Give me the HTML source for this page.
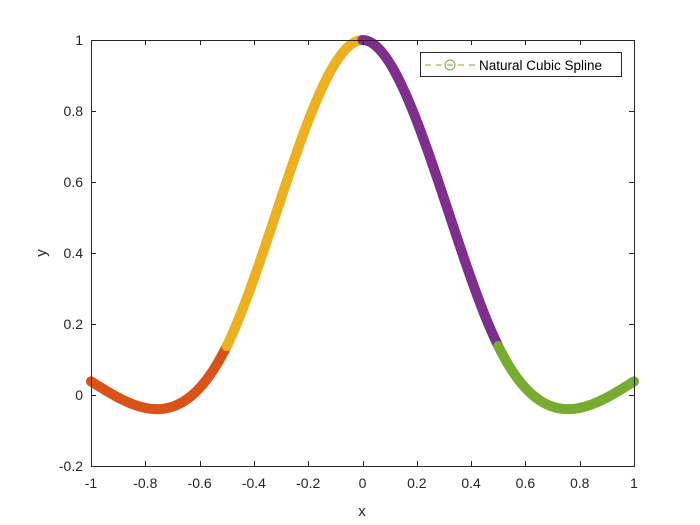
<!DOCTYPE html>
<html><head><meta charset="utf-8">
<style>
html,body{margin:0;padding:0;background:#fff;}
svg{display:block;font-family:"Liberation Sans",Arial,sans-serif;}
</style></head>
<body>
<svg id="chart" width="700" height="525" viewBox="0 0 700 525">
<rect width="700" height="525" fill="#fff"/>
<g id="segs"></g>
<g id="axes"></g>
<text x="362" y="516" font-size="15" text-anchor="middle" fill="#262626">x</text>
<text x="46" y="253" font-size="15" text-anchor="middle" fill="#262626" transform="rotate(-90 46 253)">y</text>
<g>
<rect x="420.5" y="52.5" width="201" height="24" fill="#fff" stroke="#262626" stroke-width="1"/>
<line x1="425" y1="65" x2="475" y2="65" stroke="#77AC30" stroke-width="1" stroke-dasharray="6,5"/>
<circle cx="450" cy="65" r="5" fill="none" stroke="#77AC30" stroke-width="1"/>
<text x="479" y="70" font-size="13.5" fill="#000">Natural Cubic Spline</text>
</g>
</svg>
<script>
const nodeX = [-1, -0.5, 0, 0.5, 1];
const nodeY = [0.03846, 0.13793, 1, 0.13793, 0.03846];
const segColors = ["#D95319", "#EDB120", "#7E2F8E", "#77AC30"];
const xTicks = [-1, -0.8, -0.6, -0.4, -0.2, 0, 0.2, 0.4, 0.6, 0.8, 1];
const xTickLabels = ["-1","-0.8","-0.6","-0.4","-0.2","0","0.2","0.4","0.6","0.8","1"];
const yTicks = [-0.2, 0, 0.2, 0.4, 0.6, 0.8, 1];
const yTickLabels = ["-0.2","0","0.2","0.4","0.6","0.8","1"];

const L=91, R=634, T=40, B=466;
const xMin=-1, xMax=1, yMin=-0.2, yMax=1;
const sx = v => L + (v-xMin)/(xMax-xMin)*(R-L);
const sy = v => B - (v-yMin)/(yMax-yMin)*(B-T);
const NS="http://www.w3.org/2000/svg";
function mk(tag, attrs, parent){const e=document.createElementNS(NS,tag);for(const k in attrs)e.setAttribute(k,attrs[k]);parent.appendChild(e);return e;}

// natural cubic spline second derivatives
const n=nodeX.length;
const h=[];for(let i=0;i<n-1;i++)h.push(nodeX[i+1]-nodeX[i]);
const M=new Array(n).fill(0);
(function(){
  const m=n-2; if(m<1)return;
  const a=[],b=[],c=[],d=[];
  for(let i=1;i<n-1;i++){
    a.push(h[i-1]);b.push(2*(h[i-1]+h[i]));c.push(h[i]);
    d.push(6*((nodeY[i+1]-nodeY[i])/h[i]-(nodeY[i]-nodeY[i-1])/h[i-1]));
  }
  for(let i=1;i<m;i++){const w=a[i]/b[i-1];b[i]-=w*c[i-1];d[i]-=w*d[i-1];}
  const x=new Array(m);x[m-1]=d[m-1]/b[m-1];
  for(let i=m-2;i>=0;i--)x[i]=(d[i]-c[i]*x[i+1])/b[i];
  for(let i=0;i<m;i++)M[i+1]=x[i];
})();
function S(i,t){
  const x0=nodeX[i],x1=nodeX[i+1],hh=h[i];
  const A=(x1-t)/hh,Bc=(t-x0)/hh;
  return A*nodeY[i]+Bc*nodeY[i+1]+((A*A*A-A)*M[i]+(Bc*Bc*Bc-Bc)*M[i+1])*hh*hh/6;
}
const segG=document.getElementById('segs');
for(let i=0;i<n-1;i++){
  let d="";
  for(let k=0;k<=60;k++){
    const t=nodeX[i]+h[i]*k/60;
    d+=(k?"L":"M")+sx(t).toFixed(2)+","+sy(S(i,t)).toFixed(2);
  }
  const p=mk('path',{d:d,fill:"none",stroke:segColors[i%segColors.length],"stroke-width":10,"stroke-linecap":"round","stroke-linejoin":"round"},segG);
  
  
}

const ax=document.getElementById('axes');
const box=mk('rect',{x:L+0.5,y:T+0.5,width:R-L,height:B-T,fill:"none",stroke:"#262626","stroke-width":1},ax);


xTicks.forEach((v,i)=>{
  const x=Math.round(sx(v))+0.5;
  mk('line',{x1:x,y1:B,x2:x,y2:B-5,stroke:"#262626"},ax);
  mk('line',{x1:x,y1:T,x2:x,y2:T+5,stroke:"#262626"},ax);
  const t=mk('text',{x:sx(v),y:B+22,"font-size":14,"text-anchor":"middle",fill:"#262626"},ax);
  t.textContent=xTickLabels[i];
  
  
});
yTicks.forEach((v,i)=>{
  const y=Math.round(sy(v))+0.5;
  mk('line',{x1:L,y1:y,x2:L+5,y2:y,stroke:"#262626"},ax);
  mk('line',{x1:R,y1:y,x2:R-5,y2:y,stroke:"#262626"},ax);
  const t=mk('text',{x:L-8,y:sy(v)+5,"font-size":14,"text-anchor":"end",fill:"#262626"},ax);
  t.textContent=yTickLabels[i];
  
  
});
</script>
</body></html>
